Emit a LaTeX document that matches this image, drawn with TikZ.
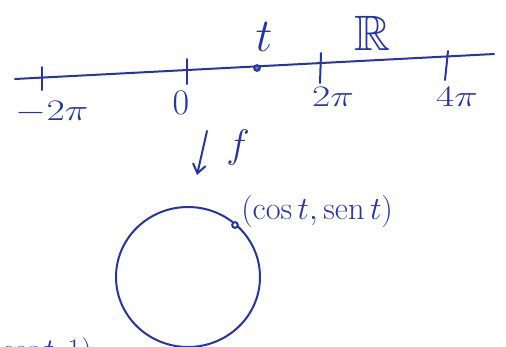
\documentclass[tikz,border=0pt]{standalone}
\usepackage{amssymb}
\usetikzlibrary{arrows.meta}
\definecolor{ink}{RGB}{38,52,170}
\begin{document}
\begin{tikzpicture}[x=1pt,y=-1pt,
  pen/.style={draw=ink,line width=2pt,line cap=round},
  lab/.style={text=ink,inner sep=0pt,font=\Huge}]
\useasboundingbox (0,0) rectangle (506,346);
\clip (0,0) rectangle (506,346);
% real line
\coordinate (L) at (15,79);
\coordinate (Rr) at (494,54);
\draw[pen] (L) -- (Rr);
% ticks
\draw[pen] (42,67) -- (42,90);
\draw[pen] (187,59) -- (187,84);
\draw[pen] (321,53) -- (320,83);
\draw[pen] (448,51) -- (445,80);
\node[circle,draw=ink,fill=ink!70,line width=2pt,inner sep=2pt] (t) at (257,68) {};
% labels
\node[lab,xscale=1.6,yscale=1.2] (m2pi) at (52,112) {$-2\pi$};
\node[lab,scale=1.45] (zero) at (181,103) {$0$};
\node[lab,xscale=1.6,yscale=1.2] (p2pi) at (333,97) {$2\pi$};
\node[lab,xscale=1.6,yscale=1.2] (p4pi) at (457,97) {$4\pi$};
\node[lab,scale=1.9] (tl) at (264,37) {$t$};
\node[lab,scale=2.0] (R) at (372,33) {$\mathbb{R}$};
% map arrow
\coordinate (a1) at (207,131);
\coordinate (a2) at (197,175);
\draw[pen,-{Straight Barb[length=9pt,width=13pt]}] (a1) -- (a2);
\node[lab,scale=1.6] (f) at (238,148) {$f$};
% circle
\draw[pen] (188,277) ellipse [x radius=72, y radius=70];
\node[circle,draw=ink,fill=white,line width=2pt,inner sep=2pt] (p) at (235,225) {};
\node[lab,anchor=west,scale=1.3] (pl) at (241,211) {$(\cos t,\mathrm{sen}\, t)$};
\node[lab,anchor=west,scale=1.2] (bl) at (2,352) {$\cos t,1)$};
\end{tikzpicture}
\end{document}
